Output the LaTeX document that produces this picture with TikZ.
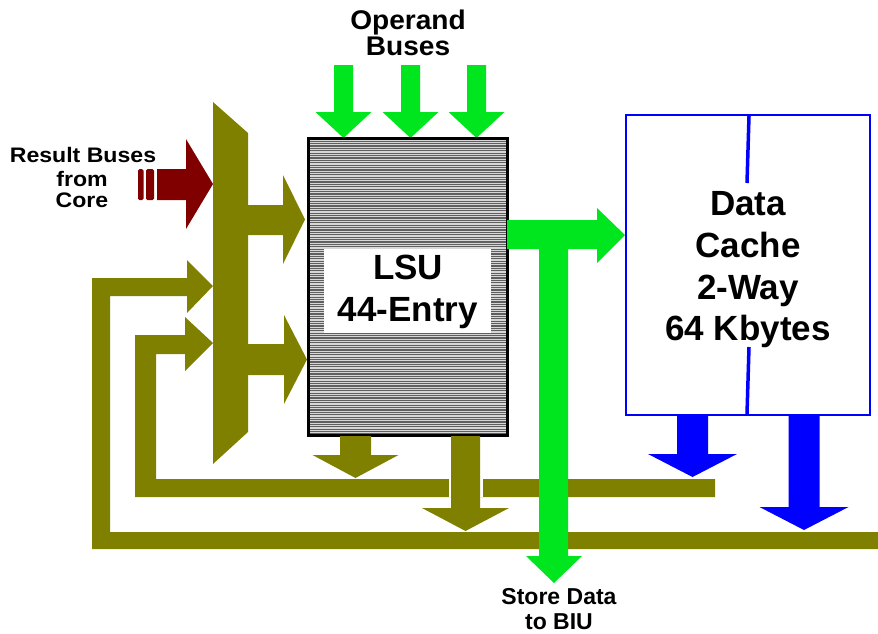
\documentclass[tikz,border=0pt]{standalone}
\usepackage{fontspec}
\setmainfont{Liberation Sans}
\definecolor{olivec}{RGB}{128,128,0}
\definecolor{redc}{RGB}{128,0,0}
\definecolor{greenc}{RGB}{0,230,30}
\definecolor{bluec}{RGB}{0,0,255}
\definecolor{stripedark}{RGB}{95,95,95}
\definecolor{stripelight}{RGB}{215,215,215}
\newcommand\fatdn[7]{\fill[#1] ({#2-#6},#3) -- ({#2+#6},#3) -- ({#2+#6},#4) -- ({#2+#7},#4) -- (#2,#5) -- ({#2-#7},#4) -- ({#2-#6},#4) -- cycle;}
\begin{document}
\begin{tikzpicture}[x=1pt,y=-1pt,
  olivefill/.style={fill=olivec},
  lbl/.style={font=\bfseries, inner sep=0pt, anchor=base, align=center},
  biglbl/.style={lbl, font=\fontsize{35}{42}\selectfont\bfseries}]
\useasboundingbox (0,0) rectangle (878,633);
% outer feedback loop
\fill[olivefill] (92,278) -- (187,278) -- (187,260) -- (213,286) -- (187,313) -- (187,296) -- (110,296) -- (110,532) -- (878,532) -- (878,549) -- (92,549) -- cycle;
% inner feedback loop
\fill[olivefill] (135,335) -- (185,335) -- (185,317) -- (213,343) -- (185,371) -- (185,354) -- (156,354) -- (156,479) -- (715,479) -- (715,497) -- (135,497) -- cycle;
% mux bus
\fill[olivefill] (213,102) -- (248,133) -- (248,432) -- (213,464) -- cycle;
\fill[olivefill] (247,205) -- (283,205) -- (283,175) -- (305,219.5) -- (283,264) -- (283,235) -- (247,235) -- cycle;
\fill[olivefill] (247,344) -- (284,344) -- (284,315) -- (307,359.5) -- (284,404) -- (284,375) -- (247,375) -- cycle;
% result buses red arrow
\fill[redc] (157,169) -- (186,169) -- (186,139) -- (213,184) -- (186,229) -- (186,200) -- (157,200) -- cycle;
\fill[redc, rounded corners=1.5pt] (138,169) rectangle (143.5,200);
\fill[redc, rounded corners=1.5pt] (146,169) rectangle (154,200);
% operand buses
\fatdn{greenc}{343.5}{65}{112}{138}{9.5}{28}
\fatdn{greenc}{410.5}{65}{112}{138}{9.5}{28}
\fatdn{greenc}{476.5}{65}{112}{138}{9.5}{28}
% LSU box
\node[minimum width=198pt, minimum height=296pt, inner sep=0pt, fill=stripedark] (lsu) at (408,287) {};
\begin{scope}
\clip (309,139) rectangle (507,435);
\foreach \yy in {140,142.4,...,436} {\draw[stripelight, line width=1.1pt] (309,\yy) -- (507,\yy);}
\end{scope}
\draw[black, line width=3pt] (lsu.north west) rectangle (lsu.south east);
\node[fill=white, minimum width=167pt, minimum height=84pt, inner sep=0pt] (lsulabel) at (407.5,291) {};
\node[biglbl] (lsut1) at (408,279) {LSU};
\node[biglbl] (lsut2) at (408,321) {44-Entry};
% LSU outputs
\fatdn{olivec}{355.5}{436}{455}{478}{15.5}{43}
\fill[white] (448.5,479) rectangle (482.5,497);
\fatdn{olivec}{465.5}{436}{508}{531}{14.5}{43.5}
% green store / cache arrow
\fill[greenc] (507,220) -- (597,220) -- (597,208) -- (625,235) -- (597,263) -- (597,249) -- (568,249) -- (568,556) -- (582,556) -- (554,583) -- (526,556) -- (539,556) -- (539,249) -- (507,249) -- cycle;
% Data cache
\node[draw=bluec, line width=2.5pt, minimum width=244pt, minimum height=300pt, inner sep=0pt] (cache) at (748,265) {};
\draw[bluec, line width=3.5pt] (749,116) -- (747,183);
\draw[bluec, line width=3.5pt] (749,347) -- (747,414);
\node[biglbl] (c1) at (748,215) {Data};
\node[biglbl] (c2) at (748,257) {Cache};
\node[biglbl] (c3) at (748,299) {2-Way};
\node[biglbl] (c4) at (748,340) {64 Kbytes};
% blue outputs
\fatdn{bluec}{692.5}{416}{454}{477}{15.5}{44.5}
\fatdn{bluec}{804}{416}{507}{530}{15.5}{44.5}
% labels
\node[lbl, font=\fontsize{27}{27}\selectfont\bfseries] (op1) at (408,29) {\scalebox{1.04}[1]{Operand}};
\node[lbl, font=\fontsize{27}{27}\selectfont\bfseries] (op2) at (408,55) {\scalebox{1.04}[1]{Buses}};
\node[lbl, font=\fontsize{21}{21}\selectfont\bfseries] (rb1) at (83,162) {\scalebox{1.1}[1]{Result Buses}};
\node[lbl, font=\fontsize{21}{21}\selectfont\bfseries] (rb2) at (82,186) {\scalebox{1.1}[1]{from}};
\node[lbl, font=\fontsize{21}{21}\selectfont\bfseries] (rb3) at (82,207) {\scalebox{1.1}[1]{Core}};
\node[lbl, font=\fontsize{23}{23}\selectfont\bfseries] (sd1) at (559,604) {Store Data};
\node[lbl, font=\fontsize{23}{23}\selectfont\bfseries] (sd2) at (559,629) {to BIU};
\end{tikzpicture}
\end{document}
